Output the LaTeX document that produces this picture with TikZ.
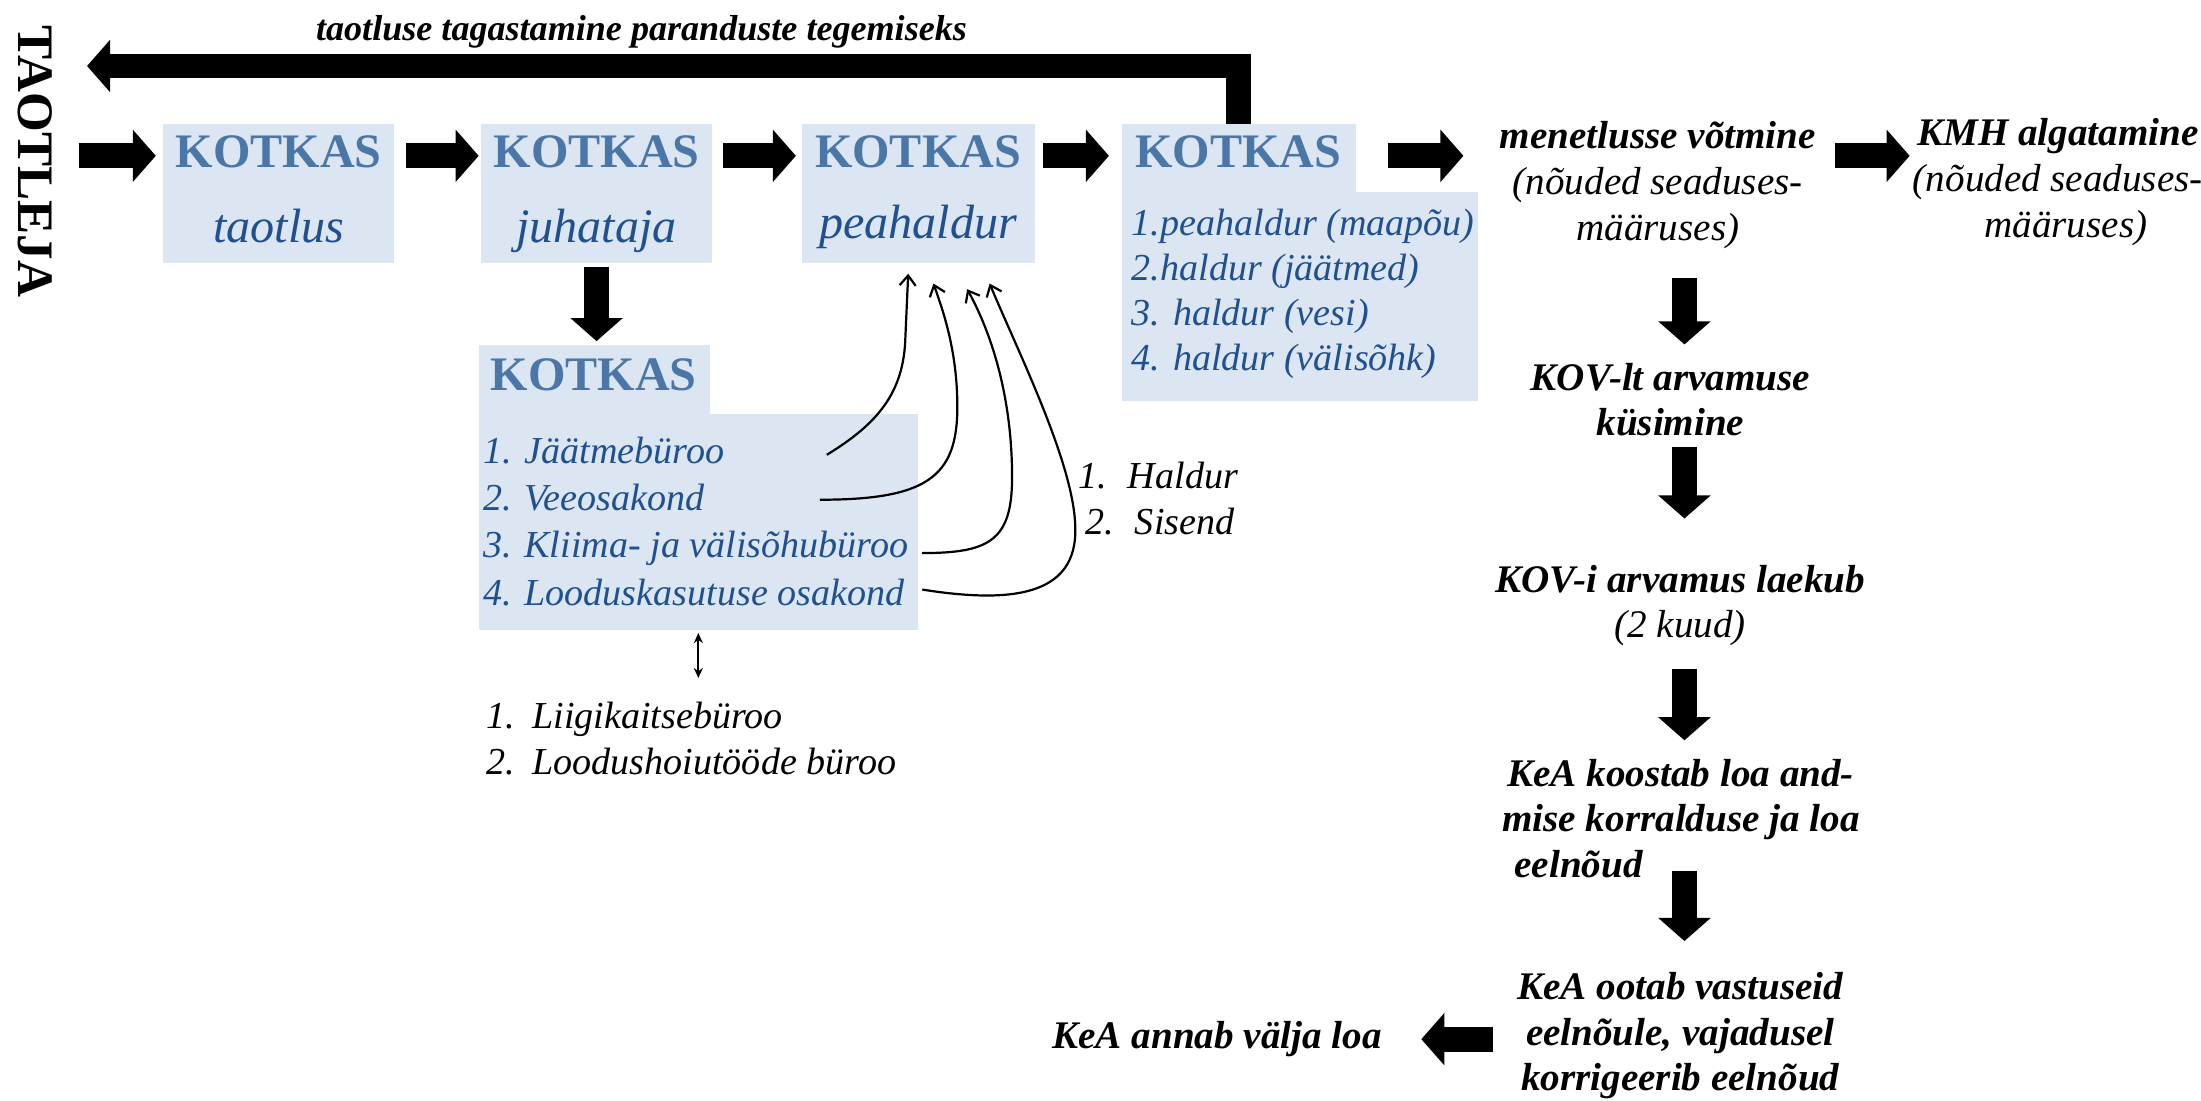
\documentclass[tikz,border=0pt]{standalone}
\usepackage{fontspec}
\setmainfont{Liberation Serif}
\usetikzlibrary{arrows.meta,calc}
\definecolor{boxfill}{HTML}{DCE6F2}
\definecolor{kotblue}{HTML}{4A77A8}
\definecolor{itblue}{HTML}{1F5090}
\tikzset{
  panel/.style={fill=boxfill, draw=none, inner sep=0pt, outer sep=0pt, anchor=north west},
  kot/.style={font=\fontsize{24}{28}\selectfont\bfseries, text=kotblue, inner sep=0pt, anchor=base},
  sub/.style={font=\fontsize{24}{28}\selectfont\itshape, text=itblue, inner sep=0pt, anchor=base},
  lst/.style={font=\fontsize{19}{22.5}\selectfont\itshape, text=itblue, inner sep=0pt, anchor=base west, align=left},
  note/.style={font=\fontsize{19}{23}\selectfont\itshape, inner sep=0pt, anchor=base west, align=left},
  proc/.style={font=\fontsize{19.5}{22.75}\selectfont\bfseries\itshape, inner sep=0pt, anchor=base, align=center},
  barrow/.style={line width=12.3pt, -{Triangle[length=11.5pt,width=25.5pt]}},
  link/.style={line width=1.1pt, -{Straight Barb[length=5pt,width=8pt]}},
  dbl/.style={line width=1pt, {Stealth[length=5pt,width=4.5pt]}-{Stealth[length=5pt,width=4.5pt]}}
}
\begin{document}
\begin{tikzpicture}[x=0.7pt,y=-0.7pt]
\useasboundingbox (0,0) rectangle (1568,784);

% panels
\node[panel, minimum width=115.5pt, minimum height=69.3pt] (b1) at (116,88) {};
\node[panel, minimum width=114.8pt, minimum height=69.3pt] (b2) at (343,88) {};
\node[panel, minimum width=116.2pt, minimum height=69.3pt] (b3) at (571,88) {};
\node[panel, minimum width=116.9pt, minimum height=35pt] (b4u) at (799,88) {};
\node[panel, minimum width=177.8pt, minimum height=104.3pt] (b4l) at (799,137) {};
\node[panel, minimum width=115.5pt, minimum height=35pt] (b5u) at (341,246) {};
\node[panel, minimum width=219.1pt, minimum height=107.8pt] (b5l) at (341,295) {};

% panel texts
\node[kot] (k1) at (198.5,119) {KOTKAS};
\node[sub] (s1) at (198.5,173) {taotlus};
\node[kot] (k2) at (425,119) {KOTKAS};
\node[sub] (s2) at (425,173) {juhataja};
\node[kot] (k3) at (654,119) {KOTKAS};
\node[sub] (s3) at (654,170) {peahaldur};
\node[kot] (k4) at (882,119) {KOTKAS};
\node[kot] (k5) at (423,278) {KOTKAS};
\node[lst] (l4) at (806,264) {1.peahaldur (maapõu)\\2.haldur (jäätmed)\\3. haldur (vesi)\\4. haldur (välisõhk)};
\node[lst, font=\fontsize{19}{23.6}\selectfont\itshape] (l5) at (344,431) {1. Jäätmebüroo\\2. Veeosakond\\3. Kliima- ja välisõhubüroo\\4. Looduskasutuse osakond};

% side texts
\node[font=\fontsize{25.5}{28}\selectfont\bfseries, rotate=-90, inner sep=0pt] (tl) at (25,115) {TAOTLEJA};
\node[font=\fontsize{18}{22}\selectfont\bfseries\itshape, inner sep=0pt, anchor=base] (rt) at (457,29) {taotluse tagastamine paranduste tegemiseks};
\node[note] (hs) at (768,381) {1.\hspace{0.55em}Haldur\\\hspace{3.5pt}2.\hspace{0.55em}Sisend};
\node[note] (lk) at (346,552) {\makebox[23.1pt][l]{1.}Liigikaitsebüroo\\\makebox[23.1pt][l]{2.}Loodushoiutööde büroo};

% right column
\node[proc] (men) at (1181,171) {menetlusse võtmine\\{\mdseries(nõuded seaduses-}\\{\mdseries määruses)}};
\node[proc] (kmh) at (1466,169) {KMH algatamine\\{\mdseries(nõuded seaduses-}\\{\mdseries\hspace*{8pt}määruses)}};
\node[proc] (kov1) at (1190,310.5) {KOV-lt arvamuse\\küsimine};
\node[proc] (kov2) at (1197,454.5) {KOV-i arvamus laekub\\{\mdseries(2 kuud)}};
\node[proc, align=left, anchor=base west] (kea1) at (1070,625) {\hspace*{2.5pt}KeA koostab loa and-\\mise korralduse ja loa\\\hspace*{6pt}eelnõud};
\node[proc] (kea2) at (1197,777) {KeA ootab vastuseid\\eelnõule, vajadusel\\korrigeerib eelnõud};
\node[proc] (kea3) at (867,747) {KeA annab välja loa};

% coordinates
\coordinate (row) at (0,111);
\coordinate (col) at (1200,0);
\coordinate (ret) at (62,47);

% block arrows
\draw[barrow, shorten <=21.7pt, shorten >=3.5pt] (tl.center |- row) -- (b1.west |- row);
\draw[barrow, shorten <=5.6pt, shorten >=1.4pt] (b1.east |- row) -- (b2.west |- row);
\draw[barrow, shorten <=5.6pt, shorten >=2.8pt] (b2.east |- row) -- (b3.west |- row);
\draw[barrow, shorten <=4.2pt, shorten >=6.3pt] (b3.east |- row) -- (b4u.west |- row);
\draw[barrow, shorten <=16.1pt, shorten >=17.9pt] (b4u.east |- row) -- (men.west |- row);
\draw[barrow, shorten <=9.5pt, shorten >=1.4pt] (men.east |- row) -- (kmh.west |- row);
\draw[barrow, line join=miter] (b4u.north) |- (ret);
\draw[barrow, shorten <=2.1pt, shorten >=2.1pt] (b2.south) -- (b2.south |- b5u.north);
\draw[barrow, shorten <=14.7pt, shorten >=9.1pt] (col |- men.south) -- (col |- kov1.north);
\draw[barrow, shorten <=4.9pt, shorten >=23.1pt] (col |- kov1.south) -- (col |- kov2.north);
\draw[barrow, shorten <=10.9pt, shorten >=9.1pt] (col |- kov2.south) -- (col |- kea1.north);
\draw[barrow, shorten <=-3.5pt, shorten >=15.4pt] (col |- kea1.south) -- (col |- kea2.north);
\draw[barrow, shorten <=11.9pt, shorten >=19.6pt] (kea2.west |- kea3.east) -- (kea3.east);

% thin connectors
\draw[dbl, shorten <=1.4pt, shorten >=11.9pt] (b5l.south) -- (b5l.south |- lk.north);
\coordinate (c1s) at (589,324);
\coordinate (c2s) at (584,356);
\coordinate (c3s) at (657,394);
\coordinate (c4s) at (657,420);
\draw[link] (c1s) .. controls (625,302) and (644,280) .. (645,240) -- ($(b3.south)+(-7,8)$);
\draw[link] (c2s) .. controls (660,356) and (682,340) .. (682,290) .. controls (682,250) and (672,222) .. ($(b3.south)+(11,15)$);
\draw[link] (c3s) .. controls (705,394) and (721,385) .. (721,340) .. controls (721,280) and (705,235) .. ($(b3.south)+(35,19)$);
\draw[link] (c4s) .. controls (720,430) and (768,425) .. (766,375) .. controls (765,330) and (725,250) .. ($(b3.south)+(51,15)$);
\end{tikzpicture}
\end{document}
